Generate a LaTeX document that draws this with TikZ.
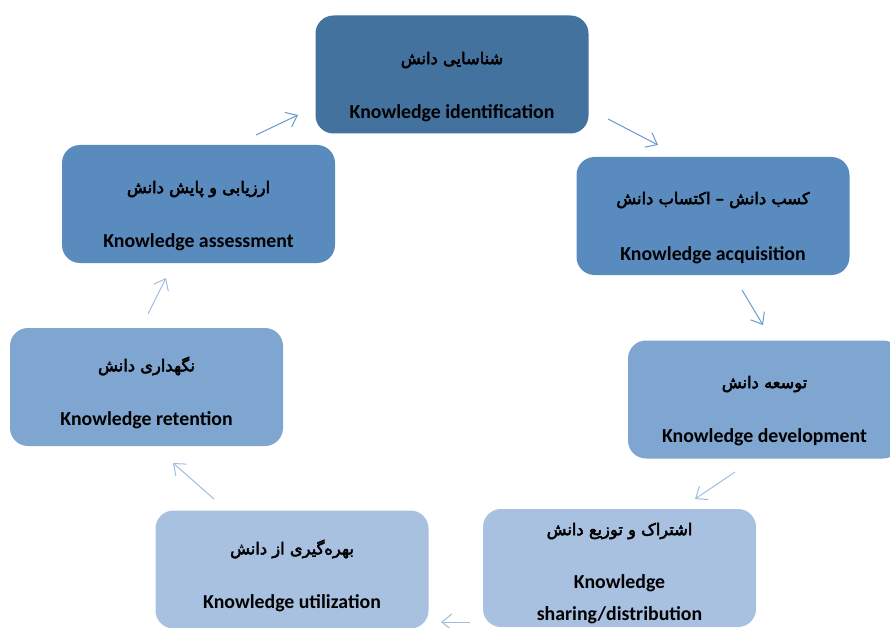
\documentclass[tikz,border=0pt]{standalone}
\usepackage{fontspec}
\setmainfont{Carlito}
\newfontfamily\farsi[Script=Arabic,FakeBold=3]{DejaVu Sans}
\TeXXeTstate=1
\usetikzlibrary{arrows.meta}

\definecolor{stageA}{RGB}{68,114,158}
\definecolor{stageB}{RGB}{90,139,191}
\definecolor{stageC}{RGB}{126,166,208}
\definecolor{stageD}{RGB}{168,193,225}
\definecolor{flowdark}{RGB}{105,152,208}
\definecolor{flowlight}{RGB}{160,188,226}

\begin{document}
\begin{tikzpicture}[x=1pt,y=-1pt,
    stage/.style={rounded corners=18pt,minimum width=273pt,minimum height=118pt,inner sep=0pt},
    fatext/.style={font=\farsi\fontsize{16.3}{20}\selectfont},
    entext/.style={font=\bfseries\fontsize{19.8}{23}\selectfont,align=center,inner sep=0pt},
    flow/.style={line width=1pt,-{Straight Barb[length=10pt,width=16pt]}}]

    \useasboundingbox (0,0) rectangle (890,628);

    % the seven stages of the cycle
    \foreach \nm/\cx/\cy/\col/\py/\ey/\per/\eng in {
        ident/452/74.5/stageA/60/113/{شناسایی دانش}/{Knowledge identification},
        acqui/713/216/stageB/200/255/{کسب دانش – اکتساب دانش}/{Knowledge acquisition},
        devel/764.5/399.5/stageC/384/437/{توسعه دانش}/{Knowledge development},
        share/619.5/568/stageD/531/599/{اشتراک و توزیع  دانش}/{Knowledge\\[9pt]sharing/distribution},
        utili/292/569.5/stageD/549/603/{بهره‌گیری از دانش}/{Knowledge utilization},
        reten/146.5/387/stageC/366/420/{نگهداری دانش}/{Knowledge retention},
        asses/198.5/204/stageB/189/242/{ارزیابی و پایش دانش}/{Knowledge assessment}} {
        \node [stage,fill=\col] (\nm) at (\cx,\cy) {};
        \node [fatext] (\nm fa) at (\cx,\py) {\beginR\per\endR};
        \node [entext] (\nm en) at (\cx,\ey) {\eng};
    }

    % arrows between the stages
    \foreach \i/\sx/\sy/\ex/\ey/\col in {
        1/608/119/658/145/flowdark,
        2/742/290/763/325/flowdark,
        3/735/472/695/499/flowlight,
        4/470/622/441/622/flowlight,
        5/214/499/173/463/flowlight,
        6/148/314/166/278/flowlight,
        7/256/135/298/115/flowdark} {
        \coordinate (s\i) at (\sx,\sy);
        \coordinate (e\i) at (\ex,\ey);
        \draw [flow,\col] (s\i) -- (e\i);
    }

\end{tikzpicture}
\end{document}
